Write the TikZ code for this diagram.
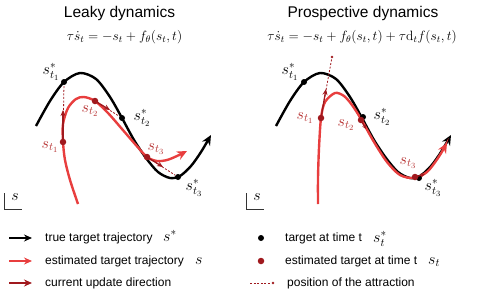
\RequirePackage{fix-cm}
\documentclass[tikz,border=0pt]{standalone}
\usepackage[no-math]{fontspec}
\setmainfont{Liberation Sans}
\usetikzlibrary{arrows.meta}
\definecolor{myred}{RGB}{232,62,62}
\definecolor{mydark}{RGB}{160,25,30}
\definecolor{lblred}{RGB}{182,48,48}
\begin{document}
\begin{tikzpicture}[x=1pt,y=-1pt,
  tgt/.style={circle,fill=black,inner sep=0pt,minimum size=6pt},
  est/.style={circle,fill=mydark,inner sep=0pt,minimum size=6.5pt},
  blkcurve/.style={line width=2.4pt,black,-{Stealth[length=10pt,width=9pt]}},
  redcurve/.style={line width=2.4pt,myred,-{Stealth[length=10pt,width=9pt]}},
  upd/.style={line width=1.3pt,mydark,-{Stealth[length=6pt,width=5pt]}},
  attr/.style={line width=0.8pt,mydark,dash pattern=on 2pt off 1.6pt},
  lab/.style={inner sep=0pt,font=\fontsize{16}{19}\selectfont},
  ttl/.style={inner sep=0pt,font=\fontsize{15.5}{18}\selectfont},
  eqn/.style={inner sep=0pt,font=\fontsize{13.5}{16}\selectfont},
  leg/.style={inner sep=0pt,anchor=west,font=\fontsize{12}{14}\selectfont},
  legm/.style={inner sep=0pt,anchor=west,font=\fontsize{16}{19}\selectfont},
  axis/.style={line width=0.8pt,black!80}
]
\useasboundingbox (0,0) rectangle (484,300);

% ---------------- titles ----------------
\node[ttl] (t1) at (119.5,13) {Leaky dynamics};
\node[ttl] (t2) at (363,13) {Prospective dynamics};
\node[eqn] (e1) at (124.5,37) {$\tau\dot{s}_t=-s_t+f_\theta(s_t,t)$};
\node[eqn] (e2) at (362,37) {$\tau\dot{s}_t=-s_t+f_\theta(s_t,t)+\tau\mathrm{d}_t f(s_t,t)$};

% ---------------- left panel ----------------
\draw[blkcurve] plot[smooth] coordinates {(36,126) (50,101) (64,82) (80,73) (96,79) (110,97) (122,118) (134,140) (146,158) (158,172) (170,178) (180,176) (191,166) (201,152) (211,135)};
\draw[redcurve] plot[smooth] coordinates {(78,204) (70,180) (65,160) (63,142) (63,124) (68,108) (76,99) (84,97) (95,101) (108,113) (122,129) (135,144) (147,157) (157,161) (167,160) (177,156) (187,151)};

\node[tgt] (a1) at (64,82) {};
\node[tgt] (a2) at (122,118) {};
\node[tgt] (a3) at (178,177) {};
\node[est] (b1) at (63,142) {};
\node[est] (b2) at (95,101) {};
\node[est] (b3) at (147,157) {};
\coordinate (u1) at (63,110);
\coordinate (u2) at (110,110);
\coordinate (u3) at (163,167);
\draw[attr] (b1) -- (a1);
\draw[attr] (b2) -- (a2);
\draw[attr] (b3) -- (a3);
\draw[upd] (b1.center) -- (u1);
\draw[upd] (b2.center) -- (u2);
\draw[upd] (b3.center) -- (u3);

\node[lab] (la1) at (51,72) {$s^*_{t_1}$};
\node[lab] (la2) at (142,118) {$s^*_{t_2}$};
\node[lab] (la3) at (194,188) {$s^*_{t_3}$};
\node[lab,text=lblred] (lb1) at (50,147) {$s_{t_1}$};
\node[lab,text=lblred] (lb2) at (90,111) {$s_{t_2}$};
\node[lab,text=lblred] (lb3) at (156,149) {$s_{t_3}$};

\coordinate (ax1) at (4,193);
\coordinate (ax2) at (4,209);
\coordinate (ax3) at (22,209);
\draw[axis] (ax1) -- (ax2) -- (ax3);
\node[lab] (axs1) at (15,197) {$s$};

% ---------------- right panel ----------------
\begin{scope}[xshift=240pt]
\draw[blkcurve] plot[smooth] coordinates {(36,126) (50,101) (64,82) (80,73) (96,79) (110,97) (122,118) (134,140) (146,158) (158,172) (170,178) (180,176) (191,166) (201,152) (211,135)};
\end{scope}
\draw[redcurve] plot[smooth] coordinates {(318,204) (318,178) (319,148) (321,118) (325,102) (335,93) (344,96) (352,105) (361,119) (374,142) (387,162) (400,175) (414,178) (427,172) (438,158) (447,143)};

\node[tgt] (c1) at (304,82) {};
\node[tgt] (c2) at (363,117) {};
\node[tgt] (c3) at (419,178) {};
\node[est] (d1) at (321,118) {};
\node[est] (d2) at (361,120) {};
\node[est] (d3) at (415,177) {};
\coordinate (v1) at (326,89);
\coordinate (v2) at (366,129);
\coordinate (v3) at (425,174);
\node[circle,fill=mydark,inner sep=0pt,minimum size=2.8pt] (p1) at (332,57) {};
\draw[attr] (d1) -- (p1);
\draw[upd] (d1.center) -- (v1);
\draw[upd,-{Stealth[length=4pt,width=4pt]}] (d2.center) -- (v2);
\draw[upd,-{Stealth[length=4pt,width=4pt]}] (d3.center) -- (v3);

\node[lab] (lc1) at (290,72) {$s^*_{t_1}$};
\node[lab] (lc2) at (382,117) {$s^*_{t_2}$};
\node[lab] (lc3) at (433,188) {$s^*_{t_3}$};
\node[lab,text=lblred] (ld1) at (305,118) {$s_{t_1}$};
\node[lab,text=lblred] (ld2) at (346,125) {$s_{t_2}$};
\node[lab,text=lblred] (ld3) at (408,163) {$s_{t_3}$};

\coordinate (bx1) at (246,193);
\coordinate (bx2) at (246,209);
\coordinate (bx3) at (264,209);
\draw[axis] (bx1) -- (bx2) -- (bx3);
\node[lab] (axs2) at (257,197) {$s$};

% ---------------- legend ----------------
\coordinate (g1a) at (9,238);  \coordinate (g1b) at (32,238);
\coordinate (g2a) at (9,261);  \coordinate (g2b) at (32,261);
\coordinate (g3a) at (9,283);  \coordinate (g3b) at (32,283);
\draw[line width=1.8pt,black,-{Stealth[length=8pt,width=7pt]}] (g1a) -- (g1b);
\draw[line width=1.8pt,myred,-{Stealth[length=8pt,width=7pt]}] (g2a) -- (g2b);
\draw[line width=1.8pt,mydark,-{Stealth[length=8pt,width=7pt]}] (g3a) -- (g3b);
\node[leg] (l1) at (45,238) {true target trajectory};
\node[legm] (l1m) at (163,236) {$s^*$};
\node[leg] (l2) at (45,261) {estimated target trajectory};
\node[legm] (l2m) at (195,261) {$s$};
\node[leg] (l3) at (45,283) {current update direction};

\node[tgt] (k1) at (261,238) {};
\node[est] (k2) at (261,261) {};
\node[circle,fill=mydark,inner sep=0pt,minimum size=2.8pt] (k3) at (273,283) {};
\coordinate (k3a) at (250,283);
\draw[attr] (k3a) -- (k3);
\node[leg] (r1) at (285,238) {target at time t};
\node[legm] (r1m) at (373,239) {$s^*_t$};
\node[leg] (r2) at (285,261) {estimated target at time t};
\node[legm] (r2m) at (428,262) {$s_t$};
\node[leg] (r3) at (287,283) {position of the attraction};
\end{tikzpicture}
\end{document}
